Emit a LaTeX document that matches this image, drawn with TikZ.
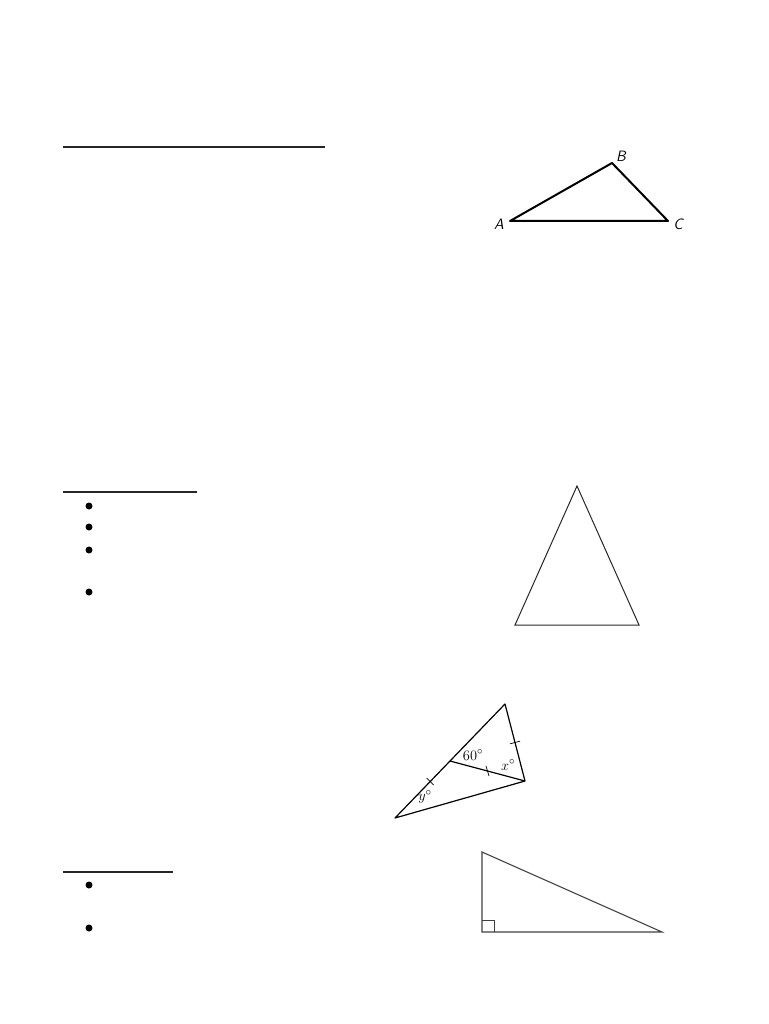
\documentclass[tikz,border=0pt]{standalone}
\usetikzlibrary{calc}
\begin{document}
\begin{tikzpicture}[x=1pt, y=-1pt]
		\tikzset{rule/.style={line width=1.8pt, black!85}};
		\tikzset{dot/.style={circle, fill=black, inner sep=0pt, minimum size=7pt}};
		\tikzset{lbl/.style={font=\sffamily\itshape\fontsize{15}{15}\selectfont}};
		\tikzset{deg/.style={font=\fontsize{15}{15}\selectfont, inner sep=0pt}};

		\useasboundingbox (0, 0) rectangle (768, 1024);

		% headings
		\coordinate (h1a) at (63, 147);
		\coordinate (h1b) at (325, 147);
		\coordinate (h2a) at (63, 492);
		\coordinate (h2b) at (197, 492);
		\coordinate (h3a) at (63, 872);
		\coordinate (h3b) at (173, 872);

		\draw[rule] (h1a) to (h1b);
		\draw[rule] (h2a) to (h2b);
		\draw[rule] (h3a) to (h3b);

		% bullets
		\node[dot] (p1) at (89, 506) {};
		\node[dot] (p2) at (89, 527) {};
		\node[dot] (p3) at (89, 550) {};
		\node[dot] (p4) at (89, 592) {};
		\node[dot] (q1) at (89, 885) {};
		\node[dot] (q2) at (89, 928) {};

		% triangle ABC
		\coordinate (a) at (510, 221);
		\coordinate (b) at (612, 163);
		\coordinate (c) at (668, 221);
		\node[lbl] (la) at (499, 224) {A};
		\node[lbl] (lb) at (621, 156) {B};
		\node[lbl] (lc) at (678, 224) {C};

		\draw[line width=2pt, line join=round] (a) to (b) to (c) to cycle;

		% isosceles triangle
		\coordinate (t) at (577, 486);
		\coordinate (l) at (515, 625);
		\coordinate (r) at (639, 625);

		\draw[line width=1pt, black!85] (t) to (l) to (r) to cycle;

		% triangle with median
		\coordinate (u) at (505, 704);
		\coordinate (v) at (395, 818);
		\coordinate (w) at (525, 781);
		\coordinate (m) at ($(u)!0.5!(v)$);

		\draw[line width=1.2pt, line join=round] (u) to (v) to (w) to cycle;
		\draw[line width=1.2pt] (m) to (w);

		\draw[line width=0.7pt] ($(u)!0.68!(v)$) ++(-3.5, -3.5) -- ++(7, 7);
		\draw[line width=0.7pt] ($(m)!0.5!(w)$) ++(-1.5, -5) -- ++(3, 10);
		\draw[line width=0.7pt] ($(u)!0.5!(w)$) ++(-5, 1.3) -- ++(10, -2.6);

		\node[deg] (d60) at (473, 755) {$60^\circ$};
		\node[deg] (dx) at (508, 765) {$x^\circ$};
		\node[deg] (dy) at (425, 797) {$y^\circ$};

		% right triangle
		\coordinate (e) at (482, 852);
		\coordinate (f) at (482, 932);
		\coordinate (g) at (662, 932);

		\draw[line width=1.1pt, black!75] (e) to (f) to (g) to cycle;
		\draw[line width=0.8pt, black!75] (482, 920) -- (494, 920) -- (494, 932);
	\end{tikzpicture}
\end{document}
